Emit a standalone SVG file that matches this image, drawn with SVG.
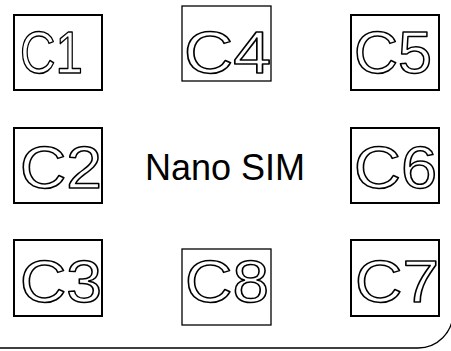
<svg xmlns="http://www.w3.org/2000/svg" width="451" height="351" viewBox="0 0 451 351">
<style>
.pad{fill:#fff;stroke:#000;stroke-width:2}
.pad.thin{stroke-width:1.3}
.lbl{font-family:"Liberation Sans",Arial,sans-serif;font-size:60px;fill:#fff;stroke:#000;stroke-width:1.5;stroke-linejoin:round}
.title{font-family:"Liberation Sans",Arial,sans-serif;font-size:36px;fill:#000}
</style>
<rect width="451" height="351" fill="#fff"/>
<g id="card">
<path d="M-2,348 H418 A35,35 0 0 0 453,313" fill="none" stroke="#000" stroke-width="1.3"/>
</g>
<g id="C1"><rect class="pad" x="14" y="15" width="88" height="75"/><text class="lbl" x="20" y="72.5" textLength="63" lengthAdjust="spacingAndGlyphs">C1</text></g>
<g id="C4"><rect class="pad thin" x="182" y="6" width="89" height="75"/><text class="lbl" x="184" y="72.5" textLength="87" lengthAdjust="spacingAndGlyphs">C4</text></g>
<g id="C5"><rect class="pad" x="351" y="15" width="88" height="75"/><text class="lbl" x="354" y="72.5" textLength="78" lengthAdjust="spacingAndGlyphs">C5</text></g>
<g id="C2"><rect class="pad" x="14" y="128" width="88" height="75"/><text class="lbl" x="20" y="187.5" textLength="82" lengthAdjust="spacingAndGlyphs">C2</text></g>
<g id="C6"><rect class="pad" x="351" y="128" width="88" height="75"/><text class="lbl" x="354" y="187.5" textLength="83" lengthAdjust="spacingAndGlyphs">C6</text></g>
<g id="C3"><rect class="pad" x="14" y="240" width="88" height="76"/><text class="lbl" x="20" y="301.5" textLength="82" lengthAdjust="spacingAndGlyphs">C3</text></g>
<g id="C8"><rect class="pad thin" x="182" y="249" width="89" height="76"/><text class="lbl" x="185" y="301.5" textLength="84" lengthAdjust="spacingAndGlyphs">C8</text></g>
<g id="C7"><rect class="pad" x="351" y="240" width="88" height="76"/><text class="lbl" x="355" y="301.5" textLength="84" lengthAdjust="spacingAndGlyphs">C7</text></g>
<g id="label"><text class="title" x="225" y="180" text-anchor="middle">Nano SIM</text></g>
<g id="connectors"/>
</svg>
